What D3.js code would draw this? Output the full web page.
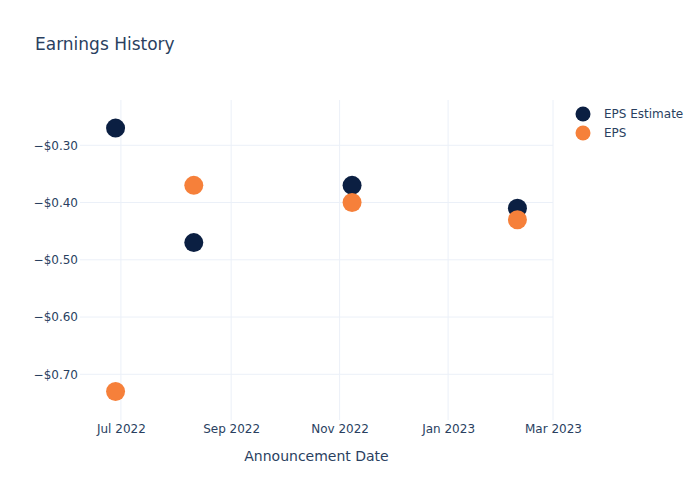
<!DOCTYPE html>
<html><head><meta charset="utf-8">
<script src="https://cdn.jsdelivr.net/npm/d3@7"></script>
<style>body{margin:0;background:#fff;}svg{font-family:"DejaVu Sans",Verdana,sans-serif;}</style>
</head><body>
<svg id="chart" width="700" height="500"></svg>
<script>
const dates = ["2022-06-28", "2022-08-11", "2022-11-08", "2023-02-09"];
const epsEstimate = [-0.27, -0.47, -0.37, -0.41];
const eps = [-0.73, -0.37, -0.40, -0.43];
const seriesNames = ["EPS Estimate", "EPS"];
const seriesColors = ["#0b1f42", "#f6803a"];
const yTicks = [-0.30, -0.40, -0.50, -0.60, -0.70];
const xTickDates = ["2022-07-01", "2022-09-01", "2022-11-01", "2023-01-01", "2023-03-01"];

const parse = d3.utcParse("%Y-%m-%d");
const svg = d3.select("#chart");
const FONT = "'DejaVu Sans', Verdana, sans-serif";
const L = 80, R = 553, T = 100, B = 420;
const x = d3.scaleUtc().domain([parse("2022-06-08"), parse("2023-03-01")]).range([L, R]);
const y = d3.scaleLinear().domain([-0.7798, -0.2209]).range([B, T]);
const textColor = "#2a3f5f", grid = "#ebf0f8";

// gridlines
svg.append("g").selectAll("line").data(xTickDates).join("line")
  .attr("x1", d => x(parse(d))).attr("x2", d => x(parse(d)))
  .attr("y1", T).attr("y2", B).attr("stroke", grid).attr("stroke-width", 1);
svg.append("g").selectAll("line").data(yTicks).join("line")
  .attr("x1", L).attr("x2", R)
  .attr("y1", d => y(d)).attr("y2", d => y(d)).attr("stroke", grid).attr("stroke-width", 1);

// axes
const fmtY = d => "\u2212$" + Math.abs(d).toFixed(2);
const yAxis = d3.axisLeft(y).tickValues(yTicks).tickFormat(fmtY).tickSize(0).tickPadding(2);
const gy = svg.append("g").attr("transform", `translate(${L},0)`).call(yAxis)
  .attr("font-family", FONT).attr("font-size", 12);
gy.select(".domain").remove();
gy.selectAll("text").attr("fill", textColor);

const fmtX = d3.utcFormat("%b %Y");
const xAxis = d3.axisBottom(x).tickValues(xTickDates.map(parse)).tickFormat(fmtX).tickSize(0).tickPadding(4);
const gx = svg.append("g").attr("transform", `translate(0,${B})`).call(xAxis)
  .attr("font-family", FONT).attr("font-size", 12);
gx.select(".domain").remove();
gx.selectAll("text").attr("fill", textColor);

// points
const series = [epsEstimate, eps];
series.forEach((vals, i) => {
  svg.append("g").selectAll("circle").data(vals).join("circle")
    .attr("cx", (d, j) => x(parse(dates[j])))
    .attr("cy", d => y(d))
    .attr("r", 9.5)
    .attr("fill", seriesColors[i]);
});

// title
svg.append("text").attr("x", 35).attr("y", 50).text("Earnings History")
  .attr("fill", textColor).attr("font-size", 17);

// axis title
svg.append("text").attr("x", (L + R) / 2).attr("y", 461).attr("text-anchor", "middle")
  .text("Announcement Date").attr("fill", textColor).attr("font-size", 14);

// legend
const lg = svg.append("g");
seriesNames.forEach((n, i) => {
  lg.append("circle").attr("cx", 583).attr("cy", 114 + i * 19).attr("r", 7.5).attr("fill", seriesColors[i]);
  lg.append("text").attr("x", 604).attr("y", 114 + i * 19).attr("dy", "0.35em")
    .text(n).attr("fill", textColor).attr("font-size", 12);
});
</script>
</body></html>
